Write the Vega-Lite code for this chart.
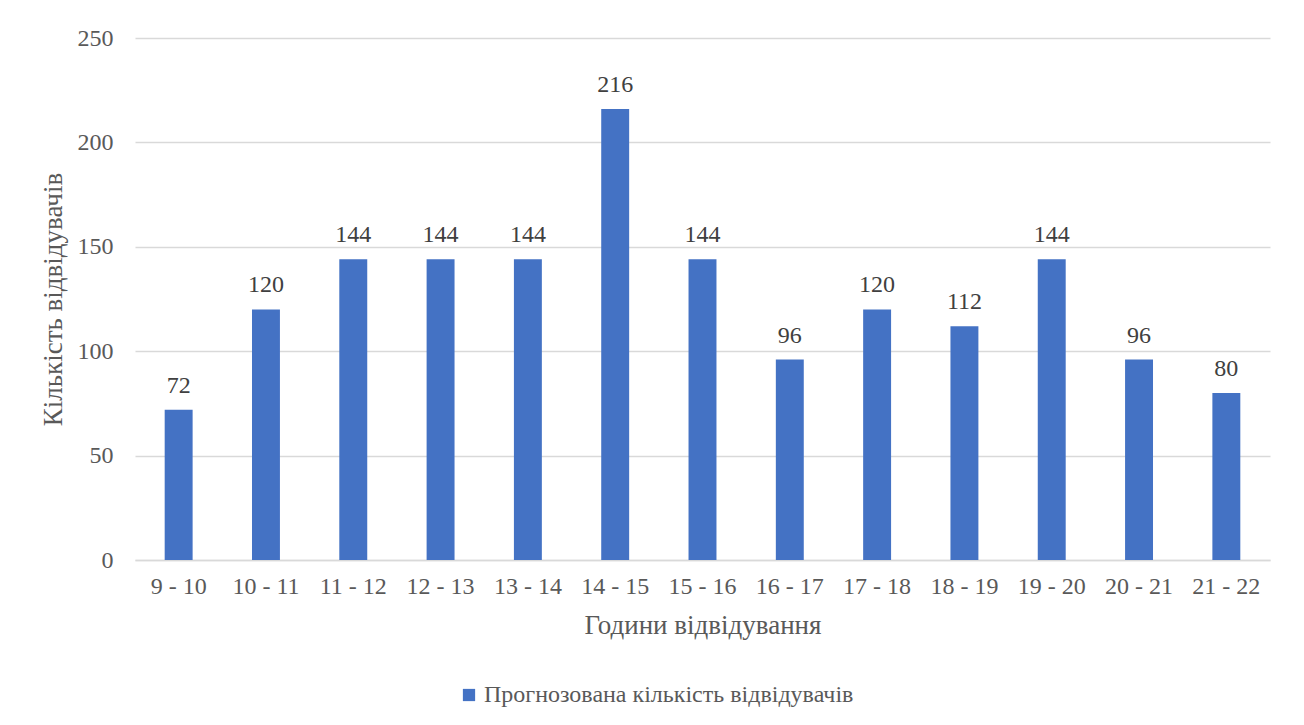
{
  "$schema": "https://vega.github.io/schema/vega-lite/v6.json",
  "autosize": "none",
  "width": 1135,
  "height": 522,
  "padding": {"left": 135, "top": 38, "right": 34, "bottom": 165},
  "background": "white",
  "config": {
    "font": "Liberation Serif",
    "view": {"stroke": null},
    "axis": {
      "labelFont": "Liberation Serif",
      "titleFont": "Liberation Serif",
      "labelFontSize": 24,
      "titleFontSize": 27,
      "labelColor": "#595959",
      "titleColor": "#595959",
      "titleFontWeight": "normal",
      "ticks": false,
      "gridColor": "#d9d9d9",
      "gridWidth": 1.3,
      "domainColor": "#d9d9d9",
      "domainWidth": 1.3
    },
    "legend": {
      "labelFont": "Liberation Serif",
      "labelFontSize": 24,
      "labelColor": "#595959",
      "labelLimit": 800
    }
  },
  "data": {
    "values": [
      {"hours": "9 - 10", "visitors": 72},
      {"hours": "10 - 11", "visitors": 120},
      {"hours": "11 - 12", "visitors": 144},
      {"hours": "12 - 13", "visitors": 144},
      {"hours": "13 - 14", "visitors": 144},
      {"hours": "14 - 15", "visitors": 216},
      {"hours": "15 - 16", "visitors": 144},
      {"hours": "16 - 17", "visitors": 96},
      {"hours": "17 - 18", "visitors": 120},
      {"hours": "18 - 19", "visitors": 112},
      {"hours": "19 - 20", "visitors": 144},
      {"hours": "20 - 21", "visitors": 96},
      {"hours": "21 - 22", "visitors": 80}
    ]
  },
  "encoding": {
    "x": {
      "field": "hours",
      "type": "nominal",
      "sort": null,
      "scale": {"paddingInner": 0.68, "paddingOuter": 0.34},
      "axis": {
        "title": "Години відвідування",
        "labelAngle": 0,
        "labelPadding": 14,
        "titlePadding": 14,
        "grid": false
      }
    },
    "y": {
      "field": "visitors",
      "type": "quantitative",
      "scale": {"domain": [0, 250]},
      "axis": {
        "title": "Кількість відвідувачів",
        "values": [0, 50, 100, 150, 200, 250],
        "labelPadding": 22,
        "titlePadding": 10,
        "domain": false,
        "grid": true
      }
    }
  },
  "layer": [
    {
      "mark": {"type": "bar", "color": "#4472C4"},
      "encoding": {
        "color": {
          "datum": "Прогнозована кількість відвідувачів",
          "type": "nominal",
          "scale": {"range": ["#4472C4"]},
          "legend": {
            "title": null,
            "orient": "none",
            "legendX": 322,
            "legendY": 645,
            "symbolType": "square",
            "symbolSize": 150,
            "symbolStrokeWidth": 0,
            "symbolOpacity": 1,
            "labelOffset": 3
          }
        }
      }
    },
    {
      "mark": {
        "type": "text",
        "baseline": "bottom",
        "dy": -12,
        "fontSize": 24,
        "color": "#404040",
        "font": "Liberation Serif"
      },
      "encoding": {
        "text": {"field": "visitors", "type": "quantitative"}
      }
    }
  ]
}
